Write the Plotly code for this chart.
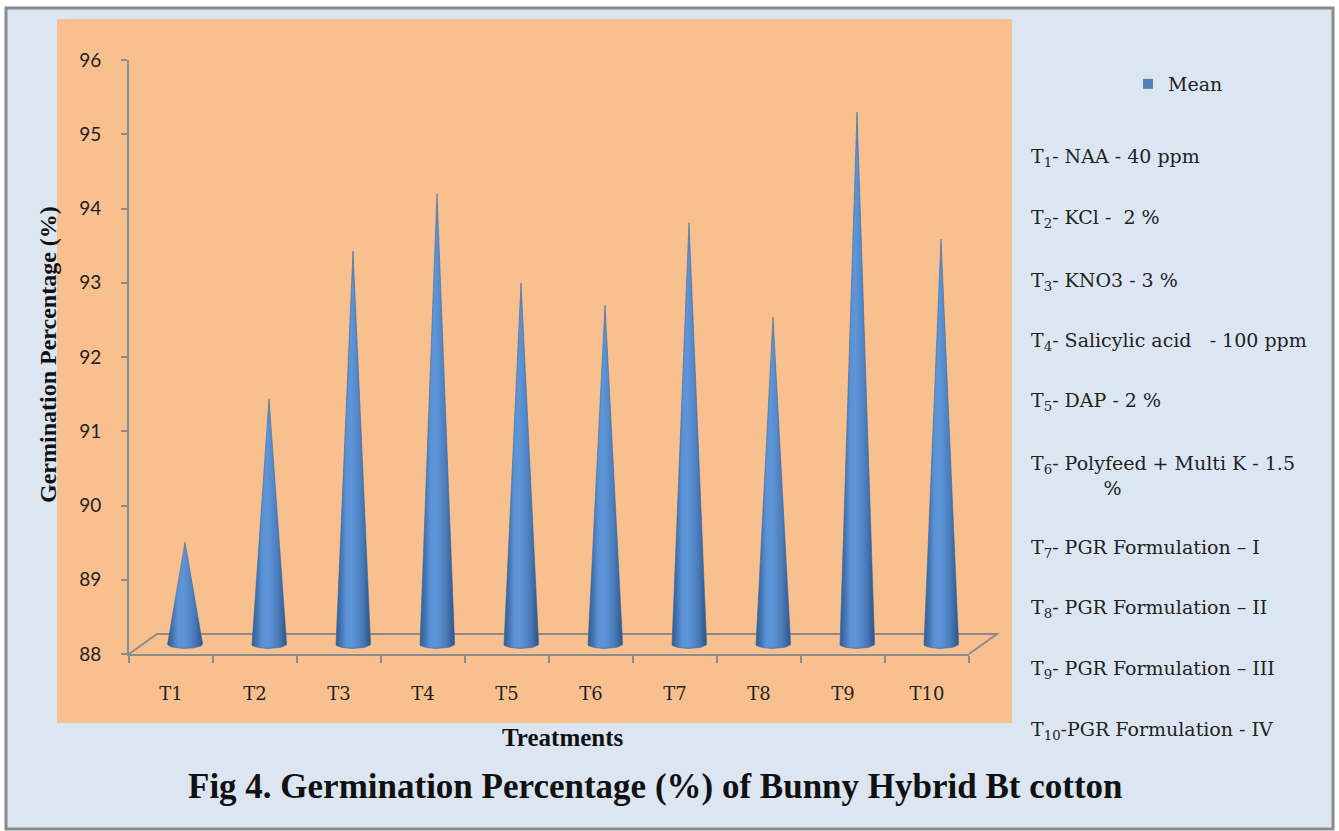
import numpy as np
import plotly.graph_objects as go

# ---------------- data ----------------
categories = ["T1", "T2", "T3", "T4", "T5", "T6", "T7", "T8", "T9", "T10"]
mean_values = [89.37, 91.30, 93.29, 94.06, 92.86, 92.56, 93.67, 92.40, 95.16, 93.45]
y_ticks = [88, 89, 90, 91, 92, 93, 94, 95, 96]
treatment_labels = [
    "T<sub>1</sub>- NAA - 40 ppm",
    "T<sub>2</sub>- KCl -  2 %",
    "T<sub>3</sub>- KNO3 - 3 %",
    "T<sub>4</sub>- Salicylic acid   - 100 ppm",
    "T<sub>5</sub>- DAP - 2 %",
    "T<sub>6</sub>- Polyfeed + Multi K - 1.5<br>\u00a0\u00a0\u00a0\u00a0\u00a0\u00a0\u00a0\u00a0\u00a0\u00a0\u00a0\u00a0%",
    "T<sub>7</sub>- PGR Formulation \u2013 I",
    "T<sub>8</sub>- PGR Formulation \u2013 II",
    "T<sub>9</sub>- PGR Formulation \u2013 III",
    "T<sub>10</sub>-PGR Formulation - IV",
]

# ---------------- geometry helpers (pixels -> paper) ----------------
W, H = 1339, 831
def px(x):
    return x / W
def py(y):
    return 1 - y / H

BLUE = "#4f81bd"
SERIF = "DejaVu Serif"
BOLD_SERIF = "Liberation Serif"

fig = go.Figure()

# cones drawn on overlay axes shifted by half the 3D depth
half_w = 0.21      # cone base half-width in category units
ell_h = 0.06       # base ellipse half-height in value units
theta = np.linspace(np.pi, 2 * np.pi, 25)
for i, (cat, v) in enumerate(zip(categories, mean_values)):
    xc = i + 1
    xs = [xc, xc - half_w] + list(xc + half_w * np.cos(theta)) + [xc + half_w, xc]
    ys = [v, 88] + list(88 + ell_h * np.sin(theta)) + [88, v]
    fig.add_trace(go.Scatter(
        x=xs, y=ys, xaxis="x2", yaxis="y2",
        mode="lines", line=dict(width=0.6, color="#3b679d"),
        fill="toself",
        fillgradient=dict(type="horizontal",
                          colorscale=[[0, "#2f5a8f"], [0.3, "#5b92d6"],
                                      [0.45, "#5e95d8"], [0.75, "#4a7cbb"],
                                      [1, "#2d5588"]]),
        showlegend=False, hoverinfo="text", text=f"{cat}: {v}",
    ))

# legend entry
fig.add_trace(go.Scatter(x=[None], y=[None], mode="markers", name="Mean",
                         marker=dict(symbol="square", size=10, color=BLUE)))

# ---------------- axes ----------------
x_dom = [px(129), px(969)]
y_dom = [py(654), py(60)]
fig.update_layout(
    xaxis=dict(domain=x_dom, range=[0.5, 10.5], tickvals=list(range(1, 11)),
               ticktext=categories, ticks="", showgrid=False, zeroline=False,
               showline=True, linecolor="#8c8c8c", linewidth=2,
               tickfont=dict(family=SERIF, size=18, color="#222"),
               ticklabelstandoff=22, automargin=False,
               minor=dict(tickvals=[k + 0.5 for k in range(0, 11)], ticks="outside",
                          ticklen=7, tickcolor="#8c8c8c", tickwidth=2),
               fixedrange=True),
    yaxis=dict(domain=y_dom, range=[88, 96], tickvals=y_ticks, ticks="outside",
               ticklen=6, tickcolor="#8c8c8c", tickwidth=2, showgrid=False,
               zeroline=False, showline=True, linecolor="#8c8c8c", linewidth=2,
               tickfont=dict(family="Lato", size=19, color="#222"),
               ticklabelstandoff=16, automargin=False, fixedrange=True),
    xaxis2=dict(domain=[px(143), px(983)], range=[0.5, 10.5], visible=False,
                anchor="y2", fixedrange=True, automargin=False),
    yaxis2=dict(domain=[py(681.1), py(49.7)], range=[87.5, 96], visible=False,
                anchor="x2", fixedrange=True, automargin=False),
)

# ---------------- decoration ----------------
shapes = [
    dict(type="rect", xref="paper", yref="paper", x0=px(6), x1=px(1333), y0=py(829), y1=py(8),
         fillcolor="#dce6f2", line=dict(color="#8a8a8a", width=3), layer="below"),
    dict(type="rect", xref="paper", yref="paper", x0=px(57), x1=px(1012), y0=py(723), y1=py(19),
         fillcolor="#f9c08f", line=dict(width=0), layer="below"),
    dict(type="path", xref="paper", yref="paper",
         path=f"M {px(129)},{py(654)} L {px(157)},{py(634)} L {px(997)},{py(634)} L {px(969)},{py(654)}",
         line=dict(color="#8c8c8c", width=2), layer="below"),
]

annotations = [
    dict(text="<b>Germination Percentage (%)</b>", xref="paper", yref="paper",
         x=px(48), y=py(355), xanchor="center", yanchor="middle", textangle=-90,
         showarrow=False, font=dict(family=BOLD_SERIF, size=24, color="#111")),
    dict(text="<b>Treatments</b>", xref="paper", yref="paper",
         x=px(563), y=py(737), xanchor="center", yanchor="middle", showarrow=False,
         font=dict(family=BOLD_SERIF, size=25, color="#111")),
    dict(text="<b>Fig 4. Germination Percentage (%) of Bunny Hybrid Bt cotton</b>",
         xref="paper", yref="paper", x=px(655), y=py(786), xanchor="center",
         yanchor="middle", showarrow=False,
         font=dict(family=BOLD_SERIF, size=35, color="#111")),
]
label_y = [157, 218, 281, 341, 401, 476, 548, 608, 669, 730]
for lab, yy in zip(treatment_labels, label_y):
    annotations.append(dict(text=lab, xref="paper", yref="paper", x=px(1029), y=py(yy),
                            xanchor="left", yanchor="middle", align="left", showarrow=False,
                            font=dict(family=SERIF, size=19, color="#222")))

fig.update_layout(
    width=W, height=H, margin=dict(l=0, r=0, t=0, b=0, autoexpand=False),
    paper_bgcolor="white", plot_bgcolor="rgba(0,0,0,0)",
    shapes=shapes, annotations=annotations,
    showlegend=True,
    legend=dict(x=px(1128), y=py(84), xanchor="left", yanchor="middle",
                bgcolor="rgba(0,0,0,0)", font=dict(family=SERIF, size=19, color="#222"),
                itemwidth=30),
)

fig.write_html("out.html", config={"displayModeBar": False})
